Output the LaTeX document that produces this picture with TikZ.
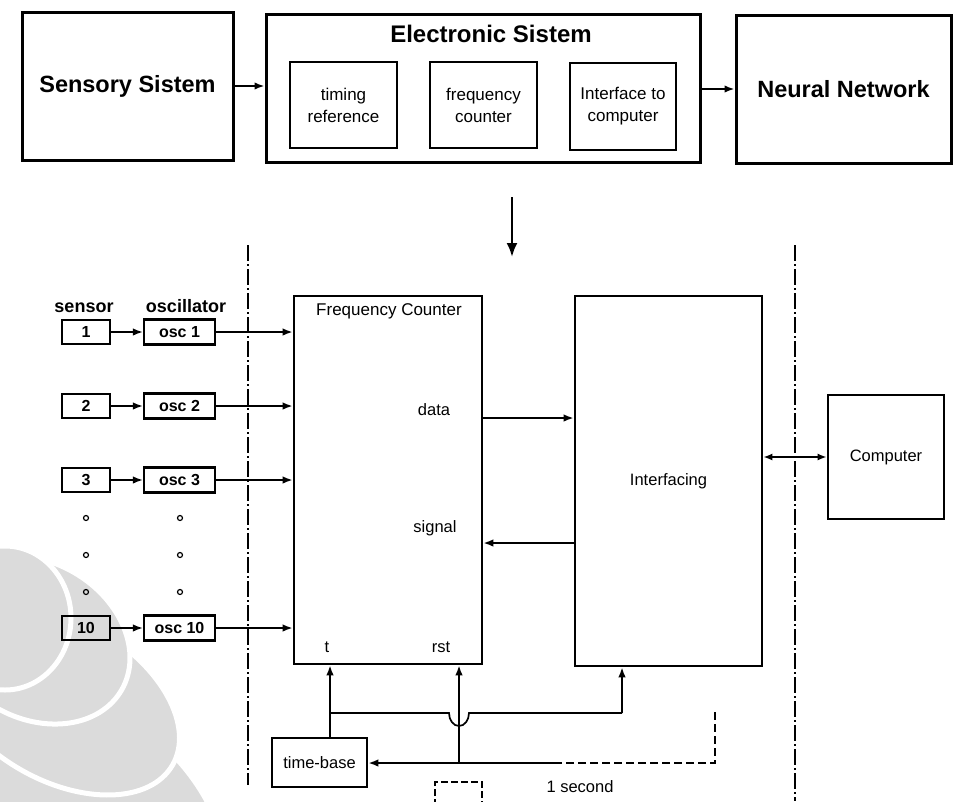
\documentclass[tikz,border=0pt]{standalone}
\usepackage{fontspec}
\setmainfont{Liberation Sans}
\usetikzlibrary{arrows.meta}
\begin{document}
\begin{tikzpicture}[x=1pt,y=-1pt,
  big/.style={draw, line width=3pt, inner sep=0pt},
  sub/.style={draw, line width=2.6pt, inner sep=0pt, align=center, font=\fontsize{17}{22}\selectfont},
  blk/.style={draw, line width=2.6pt, inner sep=0pt, align=center},
  sbox/.style={draw, line width=2.2pt, minimum width=48pt, minimum height=24pt, inner sep=0pt, font=\fontsize{16}{18}\selectfont\bfseries},
  obox/.style={draw, line width=2.2pt, minimum width=71pt, minimum height=25pt, inner sep=0pt, font=\fontsize{16}{18}\selectfont\bfseries},
  conn/.style={line width=1.9pt, -{Latex[length=10pt,width=7.5pt]}},
  lbl/.style={font=\fontsize{16.5}{18}\selectfont, inner sep=0pt},
  toplbl/.style={font=\fontsize{18}{20}\selectfont\bfseries, inner sep=0pt},
  dashdot/.style={line width=1.4pt, dash pattern=on 16pt off 3pt on 2pt off 3pt},
  pebble/.style={fill=black!14, draw=white, line width=5pt},
]
\useasboundingbox (0,0) rectangle (959,801);

% watermark pebbles
\filldraw[pebble] (95,805) ellipse[x radius=150pt, y radius=90pt, rotate=-40];
\filldraw[pebble] (60,700) ellipse[x radius=130pt, y radius=80pt, rotate=-30];
\filldraw[pebble] (35,640) ellipse[x radius=100pt, y radius=78pt, rotate=-30];
\filldraw[pebble] (5,618) ellipse[x radius=66pt, y radius=72pt];

% ---------- top block diagram ----------
\node[big, minimum width=211pt, minimum height=148pt, font=\fontsize{23.5}{26}\selectfont\bfseries] (sens) at (127.5,86) {Sensory Sistem};
\node[big, minimum width=434pt, minimum height=148pt] (elec) at (483,88) {};
\node[font=\fontsize{24}{26}\selectfont\bfseries, inner sep=0pt] (electitle) at (491,34) {Electronic Sistem};
\node[sub, minimum width=107pt, minimum height=86pt] (timing) at (343.5,105) {timing\\reference};
\node[sub, minimum width=107pt, minimum height=86pt] (freq) at (483.5,105) {frequency\\counter};
\node[sub, minimum width=106pt, minimum height=87pt] (iface) at (623,106.5) {Interface to\\computer};
\node[big, minimum width=215pt, minimum height=148pt, font=\fontsize{23.5}{26}\selectfont\bfseries] (neural) at (843.5,89) {Neural Network};

\draw[conn] (sens.east) -- (sens.east -| elec.west);
\draw[conn] (elec.east |- neural.west) -- (neural.west);

\coordinate (d1) at (512,197);
\coordinate (d2) at (512,257);
\draw[line width=2.4pt, -{Latex[length=14pt,width=11pt]}] (d1) -- (d2);

% ---------- lower detail ----------
\coordinate (l1) at (248,245);
\coordinate (l2) at (248,785);
\coordinate (r1) at (795,245);
\coordinate (r2) at (795,801);
\draw[dashdot] (l1) -- (l2);
\draw[dashdot] (r1) -- (r2);

\node[toplbl] (senslbl) at (84,308) {sensor};
\node[toplbl] (osclbl) at (186,306) {oscillator};

\node[sbox] (s1) at (86,332) {1};
\node[sbox] (s2) at (86,406) {2};
\node[sbox] (s3) at (86,480) {3};
\node[sbox] (s10) at (86,628) {10};

\node[obox] (o1) at (179.5,332) {osc 1};
\node[obox] (o2) at (179.5,406) {osc 2};
\node[obox] (o3) at (179.5,480) {osc 3};
\node[obox] (o10) at (179.5,628) {osc 10};

\foreach \yy in {518,555,592} {
  \draw[line width=1.2pt] (86,\yy) circle (2.5pt);
  \draw[line width=1.2pt] (180,\yy) circle (2.5pt);
}

\node[blk, minimum width=188pt, minimum height=368pt] (fc) at (388,480) {};
\node[lbl, font=\fontsize{17}{18}\selectfont] (fctitle) at (389,311) {Frequency Counter};
\node[lbl] (datalbl) at (434,410) {data};
\node[lbl] (siglbl) at (435,528) {signal};
\node[lbl] (tlbl) at (327,647) {t};
\node[lbl] (rstlbl) at (441,647) {rst};

\node[blk, minimum width=187pt, minimum height=370pt, lbl] (intf) at (668.5,481) {Interfacing};
\node[blk, minimum width=116pt, minimum height=124pt, lbl] (comp) at (886,457) {Computer};

\foreach \s/\o in {s1/o1,s2/o2,s3/o3,s10/o10} {
  \draw[conn, line width=1.7pt] (\s.east) -- (\s.east -| \o.west);
  \draw[conn] (\o.east) -- (\o.east -| fc.west);
}

\coordinate (ydata) at (0,418);
\coordinate (ysig) at (0,543);
\draw[conn] (fc.east |- ydata) -- (intf.west |- ydata);
\draw[conn] (intf.west |- ysig) -- (fc.east |- ysig);
\draw[line width=1.9pt, {Latex[length=9pt,width=7pt]}-{Latex[length=9pt,width=7pt]}] (intf.east |- comp.west) -- (comp.west);

% time base and control lines
\node[blk, minimum width=95pt, minimum height=49pt, lbl] (tb) at (319.5,762.5) {time-base};
\coordinate (tx) at (330,713);
\coordinate (rstb) at (459,763);
\coordinate (ib) at (622,713);
\coordinate (hopL) at (449,713);
\draw[conn] (tb.north -| tx) -- (fc.south -| tx);
\draw[conn] (rstb) -- (fc.south -| rstb);
\draw[conn] (ib) -- (intf.south -| ib);
\draw[line width=1.7pt] (tx) -- (hopL) arc[start angle=180, end angle=360, x radius=10pt, y radius=13pt] -- (ib);

\coordinate (rs1) at (715,712);
\coordinate (rs2) at (715,763);
\coordinate (rs3) at (560,763);
\draw[line width=1.6pt, dash pattern=on 8pt off 4pt] (rs1) -- (rs2) -- (rs3);
\draw[conn] (rs3) -- (tb.east |- rs3);

\coordinate (pb1) at (435,806);
\coordinate (pb2) at (435,782);
\coordinate (pb3) at (482,782);
\coordinate (pb4) at (482,806);
\draw[line width=1.8pt, dash pattern=on 7pt off 3pt] (pb1) -- (pb2) -- (pb3) -- (pb4);
\node[lbl] (onesec) at (580,787) {1 second};

\end{tikzpicture}
\end{document}
